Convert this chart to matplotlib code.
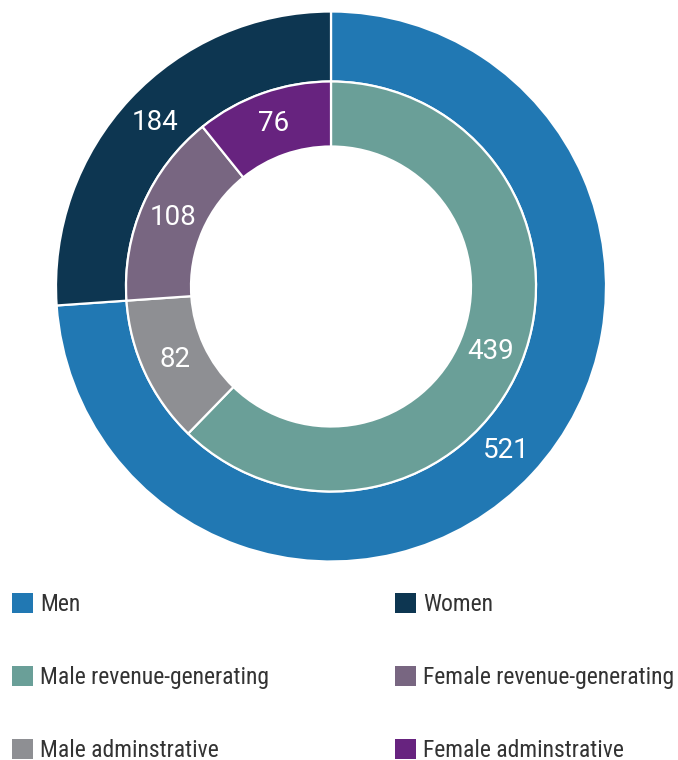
import matplotlib
matplotlib.use("Agg")
import matplotlib.pyplot as plt
from matplotlib.patches import Patch
import numpy as np

# Data
outer_labels = ["Men", "Women"]
outer_values = [521, 184]
outer_colors = ["#2178b3", "#0d3651"]

inner_labels = ["Male revenue-generating", "Male adminstrative",
                "Female revenue-generating", "Female adminstrative"]
inner_values = [439, 82, 108, 76]
inner_colors = ["#6a9f98", "#8e8f93", "#786681", "#67237f"]

W, H = 678, 760
fig = plt.figure(figsize=(W / 100, H / 100), dpi=100)

cx, cy, R = 331, 286.5, 275
ax = fig.add_axes([(cx - R) / W, (H - cy - R) / H, 2 * R / W, 2 * R / H])

outer_w = 70 / R
inner_r = 205 / R
inner_w = 65 / R

wo, _ = ax.pie(outer_values, radius=1.0, colors=outer_colors, startangle=90,
               counterclock=False,
               wedgeprops=dict(width=outer_w, edgecolor="white", linewidth=1.6))
wi, _ = ax.pie(inner_values, radius=inner_r, colors=inner_colors, startangle=90,
               counterclock=False,
               wedgeprops=dict(width=inner_w, edgecolor="white", linewidth=1.6))
ax.set_xlim(-1, 1)
ax.set_ylim(-1, 1)
ax.set_aspect("equal")
ax.axis("off")

num_font = dict(family=["Roboto", "DejaVu Sans"], fontsize=20, color="white")

def label_ring(wedges, values, r_mid):
    for w, v in zip(wedges, values):
        ang = np.deg2rad((w.theta1 + w.theta2) / 2)
        ax.text(r_mid * np.cos(ang), r_mid * np.sin(ang), str(v),
                ha="center", va="center", **num_font)

label_ring(wo, outer_values, 1.0 - outer_w / 2)
label_ring(wi, inner_values, inner_r - inner_w / 2)

# Legend: two columns
leg_font = dict(family=["Roboto Condensed", "Roboto", "DejaVu Sans"], size=17)
col1 = [(wo[0], outer_labels[0]), (wi[0], inner_labels[0]), (wi[1], inner_labels[1])]
col2 = [(wo[1], outer_labels[1]), (wi[2], inner_labels[2]), (wi[3], inner_labels[3])]

for col, x0 in ((col1, 12), (col2, 395)):
    handles = [Patch(facecolor=w.get_facecolor(), edgecolor="none") for w, _ in col]
    labels = [l for _, l in col]
    fig.legend(handles, labels, loc="upper left",
               bbox_to_anchor=(x0 / W, 1 - 593 / H),
               frameon=False, borderpad=0, borderaxespad=0,
               handlelength=0.89, handleheight=0.89, handletextpad=0.3,
               labelspacing=2.12, prop=leg_font, labelcolor="#333333")

fig.savefig("out.png", dpi=100)
